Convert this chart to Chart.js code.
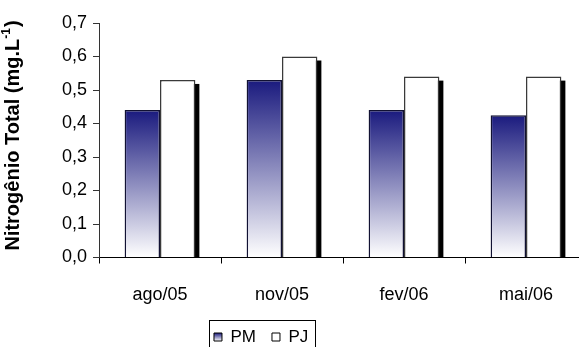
<!DOCTYPE html>
<html>
<head>
<meta charset="utf-8">
<script src="https://cdn.jsdelivr.net/npm/chart.js@4"></script>
<style>
  html, body { margin: 0; padding: 0; background: #fff; overflow: hidden; }
  #wrap { position: relative; width: 579px; height: 347px; overflow: hidden; }
  #wrap canvas { position: absolute; left: 0; top: 0; }
</style>
</head>
<body>
<div id="wrap"><canvas id="chart" width="600" height="360"></canvas></div>
<script>
const categories = ['ago/05', 'nov/05', 'fev/06', 'mai/06'];
const pmValues = [0.44, 0.53, 0.44, 0.425];
const pjValues = [0.53, 0.60, 0.54, 0.54];
const seriesNames = ['PM', 'PJ'];
const yTickLabels = ['0,0', '0,1', '0,2', '0,3', '0,4', '0,5', '0,6', '0,7'];
const yTitleMain = 'Nitrogênio Total (mg.L';
const yTitleSup = '-1';
const yTitleEnd = ')';

const FONT = '"Liberation Sans", Arial, sans-serif';
const NAVY = '#1a1a7e';
const PLOT_BOTTOM = 257.5;
const LEGEND_TOP = 312.5;
const SHADOW = 4;

Chart.defaults.font.family = FONT;
Chart.defaults.color = '#000';

// navy-to-white fade running from the top of each bar down to the baseline
function pmFill(ctx) {
  const chart = ctx.chart;
  if (!chart.chartArea || ctx.type !== 'data') return NAVY;
  const y = chart.scales.y;
  const top = y.getPixelForValue(ctx.raw);
  const base = y.getPixelForValue(0);
  const g = chart.ctx.createLinearGradient(0, top, 0, base);
  g.addColorStop(0, NAVY);
  g.addColorStop(1, '#ffffff');
  return g;
}

// hard black drop shadow behind the PJ bars, taken from the bar elements
const barShadow = {
  id: 'barShadow',
  beforeDatasetDraw(chart, args) {
    if (args.index !== 1) return;
    const c = chart.ctx;
    const area = chart.chartArea;
    c.save();
    c.beginPath();
    c.rect(area.left, area.top, area.right - area.left, area.bottom - area.top);
    c.clip();
    c.fillStyle = '#000';
    args.meta.data.forEach(bar => {
      const p = bar.getProps(['x', 'y', 'width', 'base'], true);
      c.fillRect(p.x - p.width / 2 + SHADOW, p.y + SHADOW, p.width, p.base - p.y);
    });
    c.restore();
  }
};

// legend sits in a small framed box under the first categories
const legendBox = {
  id: 'legendBox',
  afterLayout(chart) {
    const lg = chart.legend;
    lg.left = 150;
    lg.right = 372.3;
    lg.top = LEGEND_TOP;
    lg.bottom = LEGEND_TOP + lg.height;
  },
  afterDraw(chart) {
    const c = chart.ctx;
    c.save();
    c.strokeStyle = '#000';
    c.lineWidth = 1;
    c.strokeRect(209.5, 320.5, 106, 40);
    c.restore();
  }
};

// rotated axis title with the superscript exponent
const yTitle = {
  id: 'yTitle',
  afterDraw(chart) {
    const c = chart.ctx;
    const big = 'bold 20px ' + FONT;
    const small = 'bold 12px ' + FONT;
    c.save();
    c.translate(13, 136);
    c.rotate(-Math.PI / 2);
    c.fillStyle = '#000';
    c.textBaseline = 'middle';
    c.textAlign = 'left';
    c.font = big;
    const w1 = c.measureText(yTitleMain).width;
    const w3 = c.measureText(yTitleEnd).width;
    c.font = small;
    const w2 = c.measureText(yTitleSup).width;
    let x = -(w1 + w2 + w3) / 2;
    c.font = big;
    c.fillText(yTitleMain, x, 0);
    c.font = small;
    c.fillText(yTitleSup, x + w1, -6);
    c.font = big;
    c.fillText(yTitleEnd, x + w1 + w2 + 1, 0);
    c.restore();
  }
};

const chart = new Chart(document.getElementById('chart'), {
  type: 'bar',
  data: {
    labels: categories,
    datasets: [
      {
        label: seriesNames[0],
        data: pmValues,
        backgroundColor: pmFill,
        borderColor: '#111133',
        borderWidth: 1.5,
        categoryPercentage: 0.58,
        barPercentage: 1.0
      },
      {
        label: seriesNames[1],
        data: pjValues,
        backgroundColor: '#ffffff',
        borderColor: '#3a3a3a',
        borderWidth: 1.5,
        categoryPercentage: 0.58,
        barPercentage: 1.0
      }
    ]
  },
  options: {
    responsive: false,
    animation: false,
    layout: { padding: { top: 23, right: 13, bottom: 0, left: 0 } },
    plugins: {
      tooltip: { enabled: false },
      legend: {
        position: 'bottom',
        align: 'center',
        labels: {
          boxWidth: 8,
          boxHeight: 8,
          padding: 16,
          font: { size: 17 },
          color: '#000',
          generateLabels(chart) {
            const g = chart.ctx.createLinearGradient(0, 333, 0, 341);
            g.addColorStop(0, NAVY);
            g.addColorStop(1, '#ffffff');
            return [
              { text: seriesNames[0], fillStyle: g, strokeStyle: '#000', lineWidth: 1, datasetIndex: 0 },
              { text: seriesNames[1], fillStyle: '#ffffff', strokeStyle: '#000', lineWidth: 1, datasetIndex: 1 }
            ];
          }
        }
      }
    },
    scales: {
      x: {
        grid: { drawOnChartArea: false, tickLength: 6, color: '#000', offset: true },
        border: { color: '#000', width: 1 },
        ticks: { font: { size: 18 }, color: '#000', padding: 21 },
        afterFit(scale) {
          scale.height = scale.chart.height - PLOT_BOTTOM - scale.chart.legend.height;
        }
      },
      y: {
        min: 0,
        max: 0.7,
        grid: { drawOnChartArea: false, tickLength: 6, color: '#333' },
        border: { color: '#333', width: 1 },
        ticks: {
          stepSize: 0.1,
          font: { size: 18 },
          color: '#000',
          padding: 6,
          callback: (value, index) => yTickLabels[index]
        },
        afterFit(scale) {
          scale.width = 99;
        }
      }
    }
  },
  plugins: [barShadow, legendBox, yTitle]
});
</script>
</body>
</html>
